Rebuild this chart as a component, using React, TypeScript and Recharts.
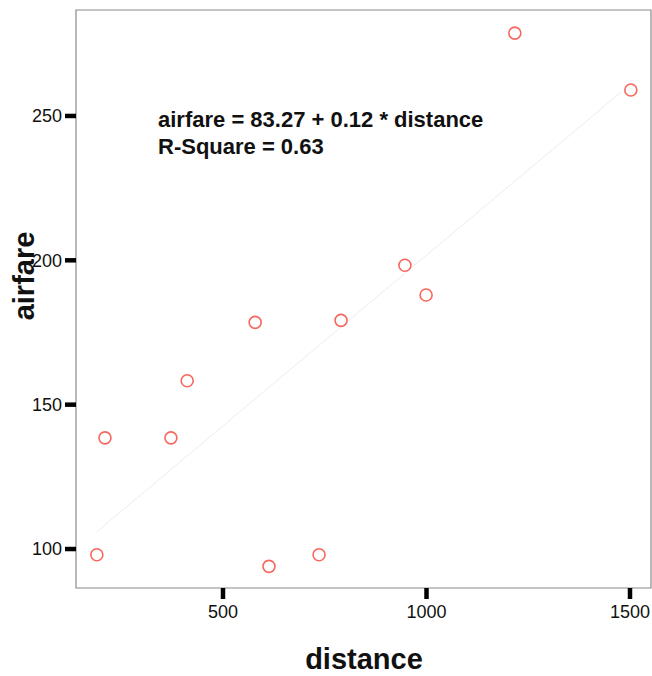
import {
  ScatterChart,
  Scatter,
  XAxis,
  YAxis,
  ReferenceArea,
  Label,
} from "recharts";

// airfare vs distance
const DISTANCE = [190, 210, 372, 412, 579, 613, 736, 790, 947, 999, 1217, 1502];
const AIRFARE = [98, 138.5, 138.5, 158.3, 178.5, 94, 98, 179.2, 198.3, 188, 278.7, 259];

// fitted line endpoints (faint line in the reference)
const FIT_DISTANCE = [190, 1480];
const FIT_AIRFARE = [106, 258.5];

const X_TICKS = [500, 1000, 1500];
const Y_TICKS = [100, 150, 200, 250];
const X_DOMAIN = [138.8, 1551.6];
const Y_DOMAIN = [86.5, 286.7];

const EQUATION = "airfare = 83.27 + 0.12 * distance";
const R_SQUARE = "R-Square = 0.63";

const FONT = "'Liberation Sans', Arial, Helvetica, sans-serif";
const POINT_COLOR = "#f7675d";

const points = DISTANCE.map((d, i) => ({ distance: d, airfare: AIRFARE[i] }));
const fit = FIT_DISTANCE.map((d, i) => ({ distance: d, airfare: FIT_AIRFARE[i] }));

const Ring = (props: any) => {
  const { cx, cy } = props;
  if (cx == null || cy == null) return <g />;
  return (
    <circle cx={cx} cy={cy} r={6} fill="none" stroke={POINT_COLOR} strokeWidth={1.6} />
  );
};

export default function App() {
  return (
    <div style={{ position: "absolute", left: 0, top: 0, width: 652, height: 676, background: "#fff" }}>
      <ScatterChart
        width={652}
        height={676}
        margin={{ top: 10, right: 1, bottom: 48, left: 16 }}
        style={{ fontFamily: FONT }}
      >
        <XAxis
          type="number"
          dataKey="distance"
          domain={X_DOMAIN}
          ticks={X_TICKS}
          allowDataOverflow
          height={40}
          axisLine={false}
          tickSize={11}
          tickMargin={6}
          tickLine={{ stroke: "#000", strokeWidth: 4.5 }}
          tick={{ fill: "#111", fontSize: 18, fontFamily: FONT }}
        >
          <Label
            content={() => (
              <text x={364} y={669} textAnchor="middle" fontSize={29} fontWeight="bold" fill="#111" fontFamily={FONT}>
                distance
              </text>
            )}
          />
        </XAxis>
        <YAxis
          type="number"
          dataKey="airfare"
          domain={Y_DOMAIN}
          ticks={Y_TICKS}
          allowDataOverflow
          width={60}
          axisLine={false}
          tickSize={11}
          tickMargin={3}
          tickLine={{ stroke: "#000", strokeWidth: 4.5 }}
          tick={{ fill: "#111", fontSize: 18, fontFamily: FONT }}
        >
          <Label
            content={() => (
              <text
                x={0}
                y={0}
                transform="translate(34 276) rotate(-90)"
                textAnchor="middle"
                fontSize={29}
                fontWeight="bold"
                fill="#111"
                fontFamily={FONT}
              >
                airfare
              </text>
            )}
          />
        </YAxis>
        <ReferenceArea
          x1={X_DOMAIN[0]}
          x2={X_DOMAIN[1]}
          y1={Y_DOMAIN[0]}
          y2={Y_DOMAIN[1]}
          fill="none"
          fillOpacity={0}
          stroke="#8a8a8a"
          strokeWidth={1.2}
          ifOverflow="visible"
        >
          <Label
            content={() => (
              <g fontFamily={FONT} fontWeight="bold" fontSize={22} fill="#111">
                <text x={158} y={127}>{EQUATION}</text>
                <text x={158} y={154}>{R_SQUARE}</text>
              </g>
            )}
          />
        </ReferenceArea>
        <Scatter
          data={fit}
          line={{ stroke: "#ececec", strokeWidth: 1 }}
          shape={() => <g />}
          isAnimationActive={false}
        />
        <Scatter data={points} shape={Ring} isAnimationActive={false} />
      </ScatterChart>
    </div>
  );
}
